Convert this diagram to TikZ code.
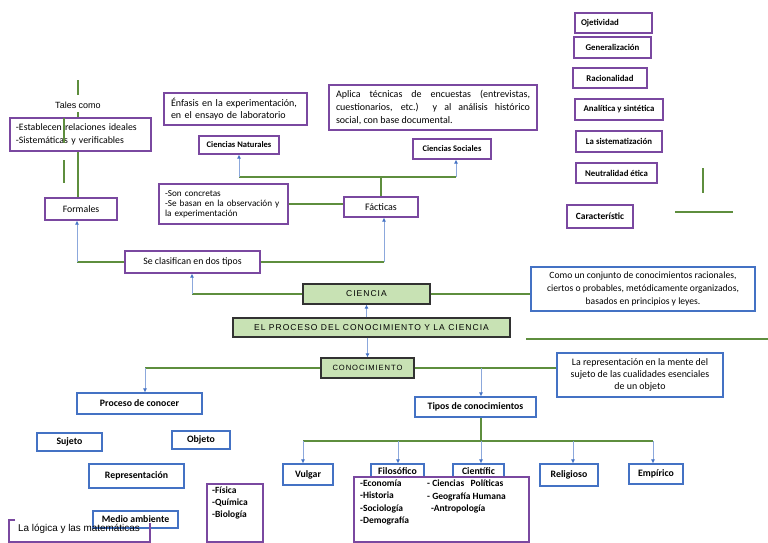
\documentclass[tikz,border=0pt]{standalone}
\usepackage{fontspec}
\setmainfont{Carlito}
\newfontfamily\arialf{Liberation Sans}
\newfontfamily\capsf[LetterSpace=12]{Liberation Sans}
\usetikzlibrary{arrows.meta}
\definecolor{purp}{RGB}{122,72,160}
\definecolor{bluebd}{RGB}{68,114,196}
\definecolor{blueln}{RGB}{140,168,220}
\definecolor{gline}{RGB}{94,142,62}
\definecolor{gfill}{RGB}{200,226,180}
\definecolor{gbd}{RGB}{50,50,50}
\newcommand{\fz}[2]{\fontsize{#1}{#2}\selectfont}
\tikzset{
 pbox/.style={draw=purp, line width=1.2pt, fill=white, inner sep=0pt, align=center},
 bbox/.style={draw=bluebd, line width=1.1pt, fill=white, inner sep=0pt, align=center},
 gbox/.style={draw=gbd, line width=1.1pt, fill=gfill, inner sep=0pt, font=\capsf\fz{8.5}{10}},
 gl/.style={draw=gline, line width=1.5pt},
 glt/.style={draw=gline, line width=2.2pt},
 ba/.style={draw=blueln, line width=0.9pt, -{Latex[length=4pt,width=4pt,color=bluebd]}},
 sz/.style 2 args={minimum width=#1pt, minimum height=#2pt},
 lab/.style={font=\bfseries\fz{9.8}{11}},
 raised/.style={text height=7pt, text depth=7pt}
}
\begin{document}
\begin{tikzpicture}[x=1pt,y=-1pt]
\useasboundingbox[fill=white] (0,0) rectangle (768,543);

% ---------- upper left ----------
\node[font=\arialf\fz{9}{11}] (tales) at (78,105) {Tales como};
\node[pbox, sz={141}{33}, align=left, text width=129pt, inner xsep=6pt, font=\fz{9.8}{12.5}] (estab) at (80.5,134.5)
  {-Establecen relaciones ideales\\-Sistemáticas y verificables};
\node[pbox, sz={72}{22}, font=\fz{9.8}{11}] (formales) at (81,209) {Formales};
\node[pbox, sz={143}{32}, align=left, text width=129pt, inner xsep=7pt, font=\fz{10}{11.5}] (enfasis) at (235.5,109)
  {Énfasis en la experimentación,\\en el ensayo de laboratorio};
\node[pbox, sz={80}{18}, font=\bfseries\fz{8.5}{9}] (cnat) at (239,145) {Ciencias Naturales};
\node[pbox, sz={208}{45}, align=justify, text width=194pt, inner xsep=7pt, font=\fz{10}{13}] (aplica) at (433,107.5)
  {Aplica técnicas de encuestas (entrevistas,\linebreak cuestionarios, etc.)\ \ y al análisis histórico\linebreak social, con base documental.};
\node[pbox, sz={78}{20}, font=\bfseries\fz{8.5}{9}] (csoc) at (452,149) {Ciencias Sociales};
\node[pbox, sz={129}{40}, align=left, text width=117pt, inner xsep=6pt, font=\fz{9.2}{10}] (concretas) at (223.5,204)
  {-Son concretas\\-Se basan en la observación y\\la experimentación};
\node[pbox, sz={74}{20}, font=\fz{10}{11}] (facticas) at (381,207) {Fácticas};
\node[pbox, sz={135}{22}, font=\fz{9.8}{11}] (seclas) at (192.5,262) {Se clasifican en dos tipos};

% ---------- right column ----------
\node[pbox, sz={77}{20}, align=left, text width=65pt, inner xsep=6pt, font=\bfseries\fz{8.8}{10}] (obj) at (613.5,23) {Ojetividad};
\node[pbox, sz={77}{21}, font=\bfseries\fz{8.8}{10}] (gen) at (612.5,47.5) {Generalización};
\node[pbox, sz={74}{20}, font=\bfseries\fz{8.8}{10}] (rac) at (610,78) {Racionalidad};
\node[pbox, sz={88}{21}, font=\bfseries\fz{8.8}{10}] (anal) at (619,109.5) {Analítica y sintética};
\node[pbox, sz={86}{21}, font=\bfseries\fz{8.8}{10}] (sist) at (619,141.5) {La sistematización};
\node[pbox, sz={81}{20}, font=\bfseries\fz{8.8}{10}] (neut) at (616.5,173) {Neutralidad ética};
\node[pbox, sz={66}{23}, font=\bfseries\fz{9.5}{10}] (carac) at (600,216.5) {Característic};

% ---------- centre ----------
\node[gbox, sz={127}{20}] (ciencia) at (366.5,294) {CIENCIA};
\node[bbox, sz={224}{44}, font=\fz{9.6}{12.8}] (defcien) at (643,289)
  {Como un conjunto de conocimientos racionales,\\ciertos o probables, metódicamente organizados,\\basados en principios y leyes.};
\node[gbox, sz={277}{19}] (proceso) at (371.5,327.5) {EL PROCESO DEL CONOCIMIENTO Y LA CIENCIA};
\node[gbox, sz={93}{20}, font=\capsf\fz{7.6}{9}] (conoc) at (367.5,368) {CONOCIMIENTO};
\node[bbox, sz={166}{44}, font=\fz{9.9}{11.7}] (repdef) at (640,375)
  {La representación en la mente del\\sujeto de las cualidades esenciales\\de un objeto};

% ---------- lower left ----------
\node[bbox, sz={125}{21}, lab] (pconocer) at (139.5,403.5) {Proceso de conocer};
\node[bbox, sz={65}{18}, lab] (sujeto) at (69.5,442) {Sujeto};
\node[bbox, sz={58}{18}, lab] (objeto) at (201,440) {Objeto};
\node[bbox, sz={95}{24}, lab] (repres) at (136.5,476) {Representación};
\node[bbox, sz={85}{17}, lab] (medio) at (135.5,519.5) {Medio ambiente};
\draw[purp, line width=1.2pt] (15,520) -- (9,520) -- (9,542) -- (150,542) -- (150,523);
\node[anchor=west, inner sep=0pt, font=\arialf\fz{9.9}{11}] (logica) at (18,529) {La lógica y las matemáticas};
\node[pbox, sz={56}{58}] (fisica) at (235,513) {};
\node[anchor=north west, inner sep=0pt, align=left, font=\bfseries\fz{9.5}{12}] (fisicat) at (212,486.5)
  {-Física\\-Química\\-Biología};

% ---------- lower right ----------
\node[bbox, sz={121}{20}, lab] (tipos) at (475.5,407) {Tipos de conocimientos};
\node[bbox, sz={50}{21}, lab] (vulgar) at (308,474.5) {Vulgar};
\node[bbox, sz={53}{21}, lab, raised] (filos) at (397.5,474.5) {Filosófico};
\node[bbox, sz={51}{21}, lab, raised] (cientif) at (478.5,474.5) {Científic};
\node[bbox, sz={58}{22}, lab] (relig) at (569,475) {Religioso};
\node[bbox, sz={54}{20}, lab] (empir) at (656,474) {Empírico};
\node[pbox, sz={175}{65}] (listbox) at (441.5,509.5) {};
\node[anchor=north west, inner sep=0pt, align=left, font=\bfseries\fz{9.5}{12.2}] (lista) at (360,480)
  {-Economía\\-Historia\\-Sociología\\-Demografía};
\node[anchor=north west, inner sep=0pt, align=left, font=\bfseries\fz{9.5}{12.2}] (listb) at (427,480)
  {- Ciencias\ \ \ Políticas\\- Geografía Humana\\\hspace{4pt}-Antropología};

% ---------- connectors ----------
\coordinate (jF) at (77,262);
\coordinate (jFa) at (384,262);
\coordinate (jS) at (192,294);
\coordinate (jN) at (239,177);
\coordinate (jSo) at (456,177);
\coordinate (jP) at (145,368);
\coordinate (jT) at (481,368);
\coordinate (jTb) at (481,441);
\coordinate (jV) at (303,441);
\coordinate (jFi) at (398,441);
\coordinate (jR) at (573,441);
\coordinate (jE) at (653,441);

\draw[gl] (seclas.west) -- (jF);
\draw[ba] (jF) -- (jF |- formales.south);
\draw[gl] (seclas.east) -- (jFa);
\draw[ba] (jFa) -- (jFa |- facticas.south);
\draw[gl] (ciencia.west) -- (jS);
\draw[ba] (jS) -- (jS |- seclas.south);
\draw[glt] (concretas.east) -- (concretas.east -| facticas.west);
\draw[gl] (facticas.north) -- (facticas.north |- jN);
\draw[gl] (jN) -- (jSo);
\draw[ba] (jN) -- (jN |- cnat.south);
\draw[ba] (jSo) -- (jSo |- csoc.south);
\draw[gl] (ciencia.east) -- (ciencia.east -| defcien.west);
\draw[ba] (proceso.north -| ciencia.south) -- (ciencia.south);
\draw[ba] (proceso.south -| conoc.north) -- (conoc.north);
\draw[gl] (conoc.west) -- (jP);
\draw[ba] (jP) -- (jP |- pconocer.north);
\draw[gl] (conoc.east) -- (conoc.east -| repdef.west);
\draw[ba] (jT) -- (jT |- tipos.north);
\draw[gl] (tipos.south -| jT) -- (jTb);
\draw[gl] (jV) -- (jE);
\draw[ba] (jV) -- (jV |- vulgar.north);
\draw[ba] (jFi) -- (jFi |- filos.north);
\draw[ba] (jTb) -- (jTb |- cientif.north);
\draw[ba] (jR) -- (jR |- relig.north);
\draw[ba] (jE) -- (jE |- empir.north);

% ---------- stray green strokes ----------
\draw[gl] (78,80) -- (78,95);
\draw[gl] (78,112) -- (78,117);
\draw[gl] (64,118) -- (64,143);
\draw[gl] (78,152) -- (formales.north -| 78,0);
\draw[glt] (64,160) -- (64,183);
\draw[glt] (703,168) -- (703,193);
\draw[gl] (675,212) -- (733,212);
\draw[glt] (526,339) -- (768,339);
\end{tikzpicture}
\end{document}
